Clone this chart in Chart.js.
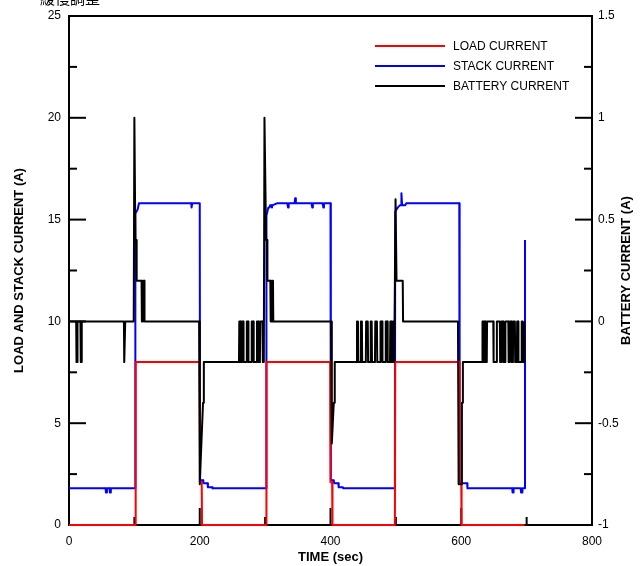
<!DOCTYPE html>
<html><head><meta charset="utf-8">
<script src="https://cdn.jsdelivr.net/npm/chart.js@4/dist/chart.umd.min.js"></script>
<style>html,body{margin:0;padding:0;background:#fff;overflow:hidden}</style>
</head><body>
<canvas id="c" width="641" height="566"></canvas>
<script>
// ---- data ----
const seriesLabels = ['LOAD CURRENT', 'STACK CURRENT', 'BATTERY CURRENT'];
const seriesColors = ['#ff0000', '#0000ff', '#000000'];
const xTicks = [0, 200, 400, 600, 800];
const leftTicks = [0, 5, 10, 15, 20, 25];
const rightTicks = [-1, -0.5, 0, 0.5, 1, 1.5];

const loadTime   = [0, 101.5, 102, 200, 200.5, 203, 203.5, 301.5, 302, 399.5, 400, 402.5, 403, 498.5, 499, 597, 597.5, 600, 600.5, 697];
const loadValues = [0, 0, 8, 8, 2.1, 2.1, 0, 0, 8, 8, 2.1, 2.1, 0, 0, 8, 8, 2.1, 2.1, 0, 0];

const stackTime = [0, 56, 56.5, 57.5, 58, 62, 62.5, 63.5, 64, 101, 101.5, 105, 107, 187, 187.5, 188.5, 200, 200.5, 205, 205.5, 212, 212.5, 219, 219.5,
  301.5, 302, 305, 307, 307.5, 310, 310.5, 311, 318, 334, 335, 336, 345, 346, 347, 371, 372, 373, 388, 389, 390, 400, 400.5, 405, 405.5, 412, 412.5, 419, 419.5,
  498.5, 499, 503, 506, 508, 508.5, 509.5, 514, 516, 597, 597.5, 600, 609, 609.5, 678, 678.5, 679.5, 680, 691, 691.5, 693, 693.5, 697, 697.5];
const stackValues = [1.8, 1.8, 1.6, 1.6, 1.8, 1.8, 1.6, 1.6, 1.8, 1.8, 15.3, 15.5, 15.8, 15.8, 15.6, 15.8, 15.8, 2.2, 2.2, 2.05, 2.05, 1.85, 1.85, 1.8,
  1.8, 15.2, 15.6, 15.6, 15.7, 15.7, 15.6, 15.7, 15.8, 15.8, 15.6, 15.8, 15.8, 16.05, 15.8, 15.8, 15.6, 15.8, 15.8, 15.6, 15.8, 15.8, 2.2, 2.2, 2.05, 2.05, 1.85, 1.85, 1.8,
  1.8, 15.4, 15.6, 15.7, 15.7, 16.3, 15.7, 15.7, 15.8, 15.8, 2.2, 2.05, 2.05, 1.8, 1.8, 1.6, 1.6, 1.8, 1.8, 1.6, 1.6, 1.8, 1.8, 14.0];

const batteryTime = [0, 11, 11.5, 12.5, 13, 17.5, 18, 19, 19.5, 84, 84.5, 85.5, 86,
  99, 100, 101.5, 103, 103.5, 111, 111.5, 113, 113.5, 115, 115.5,
  199, 200, 205, 206, 206.5,
  260, 260.5, 262, 262.5, 264, 264.5, 266.5, 267, 271.5, 272, 274, 274.5, 279, 279.5, 282, 282.5, 287, 287.5, 289.5, 290, 292, 292.5, 296, 296.5, 298,
  299, 301.5, 303, 303.5, 308, 308.5, 310, 310.5, 312, 312.5,
  401, 402, 405, 406, 406.5,
  440, 440.5, 442, 442.5, 446, 446.5, 448, 448.5, 454, 454.5, 457, 457.5, 461, 461.5, 463, 463.5, 468, 468.5, 471, 471.5, 476, 476.5, 479, 479.5, 484, 484.5, 487, 487.5, 491, 491.5, 493, 493.5, 495, 495.5, 497, 497.5, 498.5,
  499.5, 501, 510.5, 511,
  595, 596, 600.5, 601, 602, 602.5,
  632, 632.5, 633.5, 634, 635, 635.5, 637, 637.5, 639, 639.5, 649, 649.5, 654, 654.5, 659, 659.5, 661, 661.5, 664, 664.5, 667, 667.5, 672, 672.5, 674, 674.5, 677, 677.5, 679, 679.5, 682, 682.5, 685, 685.5, 687, 687.5, 692, 692.5, 694, 694.5, 696, 696.5, 697];
const batteryValues = [0, 0, -0.2, -0.2, 0, 0, -0.2, -0.2, 0, 0, -0.2, -0.2, 0,
  0, 1.0, 0.4, 0.4, 0.2, 0.2, 0, 0, 0.2, 0.2, 0,
  0, -0.8, -0.4, -0.4, -0.2,
  -0.2, 0, 0, -0.2, -0.2, 0, 0, -0.2, -0.2, 0, 0, -0.2, -0.2, 0, 0, -0.2, -0.2, 0, 0, -0.2, -0.2, 0, 0, -0.2, -0.2,
  1.0, 0.4, 0.4, 0.2, 0.2, 0, 0, 0.2, 0.2, 0,
  0, -0.6, -0.4, -0.4, -0.2,
  -0.2, 0, 0, -0.2, -0.2, 0, 0, -0.2, -0.2, 0, 0, -0.2, -0.2, 0, 0, -0.2, -0.2, 0, 0, -0.2, -0.2, 0, 0, -0.2, -0.2, 0, 0, -0.2, -0.2, 0, 0, -0.2, -0.2, 0, 0, -0.2, -0.2,
  0.6, 0.2, 0.2, 0,
  0, -0.8, -0.8, -0.4, -0.4, -0.2,
  -0.2, 0, 0, -0.2, -0.2, 0, 0, -0.2, -0.2, 0, 0, -0.2, -0.2, 0, 0, -0.2, -0.2, 0, 0, -0.2, -0.2, 0, 0, -0.2, -0.2, 0, 0, -0.2, -0.2, 0, 0, -0.2, -0.2, 0, 0, -0.2, -0.2, 0, 0, -0.2, -0.2, 0, 0];

const topNote = '緩慢調整';
const FONT = "'Liberation Sans', Arial, sans-serif";

function pts(t, v) { return t.map((x, i) => ({ x: x, y: v[i] })); }

const framePlugin = {
  id: 'frame',
  beforeDatasetsDraw(chart) {
    const { ctx, chartArea: a, scales } = chart;
    ctx.save();
    ctx.strokeStyle = '#000';
    ctx.lineWidth = 2;
    ctx.lineCap = 'butt';
    ctx.strokeRect(a.left, a.top, a.right - a.left, a.bottom - a.top);
    const seg = (x1, y1, x2, y2) => { ctx.beginPath(); ctx.moveTo(x1, y1); ctx.lineTo(x2, y2); ctx.stroke(); };
    for (let i = 0; i < leftTicks.length; i++) {
      const y = scales.y.getPixelForValue(leftTicks[i]);
      seg(a.left, y, a.left + 17, y);
      if (i < leftTicks.length - 1) {
        const ym = scales.y.getPixelForValue((leftTicks[i] + leftTicks[i + 1]) / 2);
        seg(a.left, ym, a.left + 8, ym);
      }
    }
    for (let i = 0; i < rightTicks.length; i++) {
      const y = scales.y2.getPixelForValue(rightTicks[i]);
      seg(a.right, y, a.right - 17, y);
      if (i < rightTicks.length - 1) {
        const ym = scales.y2.getPixelForValue((rightTicks[i] + rightTicks[i + 1]) / 2);
        seg(a.right, ym, a.right - 8, ym);
      }
    }
    for (let i = 0; i < xTicks.length; i++) {
      const x = scales.x.getPixelForValue(xTicks[i]);
      seg(x, a.bottom, x, a.bottom - 17);
      if (i < xTicks.length - 1) {
        const xm = scales.x.getPixelForValue((xTicks[i] + xTicks[i + 1]) / 2);
        seg(xm, a.bottom, xm, a.bottom - 8);
      }
    }
    ctx.restore();
  },
  afterDraw(chart) {
    const { ctx, chartArea: a } = chart;
    ctx.save();
    ctx.font = '12px ' + FONT;
    ctx.textBaseline = 'middle';
    ctx.textAlign = 'left';
    const rows = [46, 66, 86];
    chart.data.datasets.forEach((ds, i) => {
      ctx.strokeStyle = ds.borderColor;
      ctx.lineWidth = 2;
      ctx.beginPath(); ctx.moveTo(375, rows[i]); ctx.lineTo(445, rows[i]); ctx.stroke();
      ctx.fillStyle = '#000';
      ctx.fillText(ds.label, 453, rows[i] + 1);
    });
    ctx.translate(626, (a.top + a.bottom) / 2);
    ctx.rotate(-Math.PI / 2);
    ctx.font = 'bold 13px ' + FONT;
    ctx.textAlign = 'center';
    ctx.fillText('BATTERY CURRENT (A)', 0, 0);
    ctx.restore();
    ctx.save();
    ctx.font = "15px 'Noto Sans CJK TC', sans-serif";
    ctx.fillStyle = '#000';
    ctx.textBaseline = 'bottom';
    ctx.textAlign = 'left';
    ctx.fillText(topNote, 40, 6);
    ctx.restore();
  }
};

new Chart(document.getElementById('c'), {
  type: 'line',
  data: {
    datasets: [
      { label: seriesLabels[0], data: pts(loadTime, loadValues), borderColor: seriesColors[0], yAxisID: 'y', order: 1 },
      { label: seriesLabels[1], data: pts(stackTime, stackValues), borderColor: seriesColors[1], yAxisID: 'y', order: 2 },
      { label: seriesLabels[2], data: pts(batteryTime, batteryValues), borderColor: seriesColors[2], yAxisID: 'y2', order: 0 }
    ].map(d => Object.assign(d, { borderWidth: 2, borderJoinStyle: 'round', pointRadius: 0, tension: 0, fill: false, clip: 4 }))
  },
  options: {
    responsive: false,
    animation: false,
    devicePixelRatio: 1,
    layout: { padding: { top: 16, left: 0, right: 0, bottom: 0 } },
    plugins: { legend: { display: false }, tooltip: { enabled: false } },
    scales: {
      x: {
        type: 'linear', min: 0, max: 800,
        afterBuildTicks: s => { s.ticks = xTicks.map(v => ({ value: v })); },
        afterFit: s => { s.height = 41; },
        grid: { display: false, drawTicks: false },
        border: { display: false },
        ticks: { padding: 9, color: '#000', font: { size: 12, family: FONT }, maxRotation: 0, callback: v => String(v) },
        title: { display: true, text: 'TIME (sec)', color: '#000', font: { size: 13, weight: 'bold', family: FONT }, padding: { top: 0, bottom: 1 } }
      },
      y: {
        position: 'left', min: 0, max: 25,
        afterBuildTicks: s => { s.ticks = leftTicks.map(v => ({ value: v })); },
        afterFit: s => { s.width = 69; },
        grid: { display: false, drawTicks: false },
        border: { display: false },
        ticks: { padding: 8, color: '#000', font: { size: 12, family: FONT }, callback: v => String(v) },
        title: { display: true, text: 'LOAD AND STACK CURRENT (A)', color: '#000', font: { size: 13, weight: 'bold', family: FONT }, padding: { top: 12, bottom: 0 } }
      },
      y2: {
        position: 'right', min: -1, max: 1.5,
        afterBuildTicks: s => { s.ticks = rightTicks.map(v => ({ value: v })); },
        afterFit: s => { s.width = 49; },
        grid: { display: false, drawTicks: false },
        border: { display: false },
        ticks: { padding: 6, color: '#000', font: { size: 12, family: FONT }, callback: v => String(v) }
      }
    }
  },
  plugins: [framePlugin]
});
</script>
</body></html>
